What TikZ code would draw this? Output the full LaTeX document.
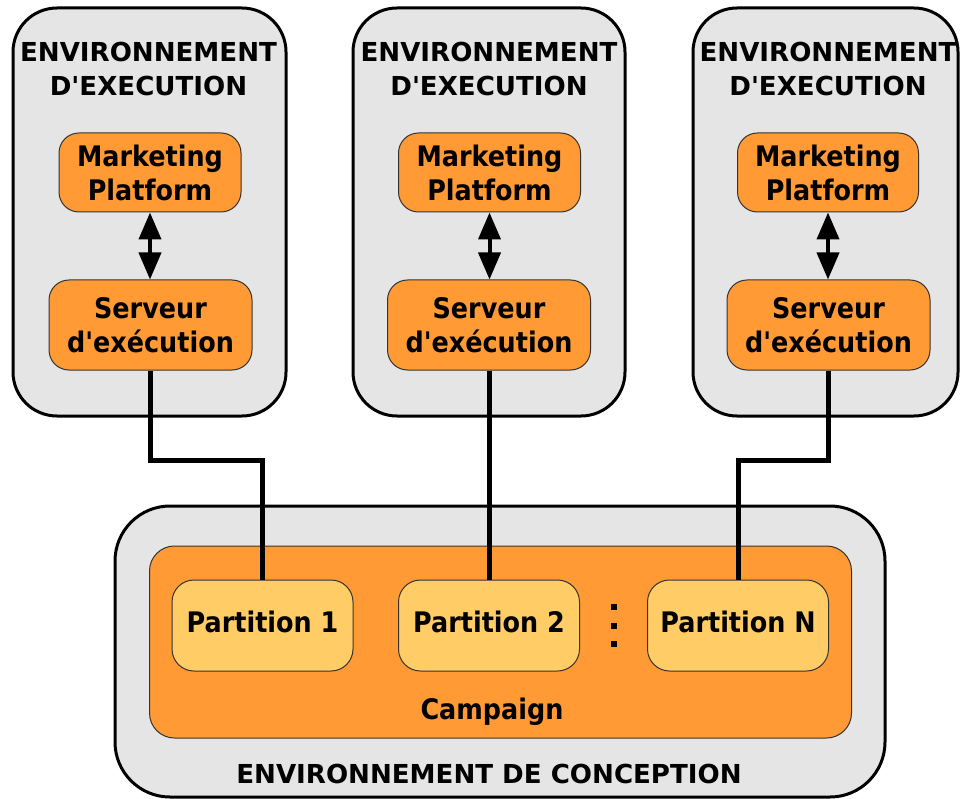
\documentclass[tikz,border=0pt]{standalone}
\usepackage{fontspec}
\setmainfont{DejaVu Sans}
\newfontfamily\nb{DejaVu Sans Bold}[FakeStretch=0.9]
\newfontfamily\capsfont{DejaVu Sans Bold}
\usetikzlibrary{arrows.meta}
\definecolor{envgray}{HTML}{E5E5E5}
\definecolor{orng}{HTML}{FF9A35}
\definecolor{lightorng}{HTML}{FFCC66}
\definecolor{thinline}{HTML}{333333}
\tikzset{
  envbox/.style={draw=black, line width=3pt, fill=envgray, rounded corners=44pt, inner sep=0pt},
  orangebox/.style={draw=thinline, line width=1pt, fill=orng, rounded corners=20pt, inner sep=0pt,
    align=center, font=\nb\fontsize{28.3}{34}\selectfont},
  partbox/.style={draw=thinline, line width=1pt, fill=lightorng, rounded corners=22pt, inner sep=0pt,
    minimum width=181pt, minimum height=91pt, text height=21pt, text depth=7pt,
    font=\nb\fontsize{28.3}{34}\selectfont},
  titletext/.style={align=center, inner sep=0pt, font=\capsfont\fontsize{26.1}{34}\selectfont},
  labeltext/.style={inner sep=0pt, anchor=base},
  conn/.style={line width=5pt, draw=black},
  dblarrow/.style={line width=4pt, draw=black,
    {Triangle[length=27pt,width=22pt]}-{Triangle[length=27pt,width=22pt]}},
  dotsq/.style={fill=black, minimum size=6pt, inner sep=0pt}
}
\begin{document}
\begin{tikzpicture}[x=1pt,y=-1pt]
\useasboundingbox (0,0) rectangle (960,799);
% execution environments
\node[envbox, minimum width=273pt, minimum height=408pt] (env1) at (149.5,212) {};
\node[envbox, minimum width=272pt, minimum height=408pt] (env2) at (489,212) {};
\node[envbox, minimum width=265pt, minimum height=408pt] (env3) at (825.5,212) {};
\node[titletext] (t1) at (148.5,68.6) {ENVIRONNEMENT\\D'EXECUTION};
\node[titletext] (t2) at (489,68.6) {ENVIRONNEMENT\\D'EXECUTION};
\node[titletext] (t3) at (828,68.6) {ENVIRONNEMENT\\D'EXECUTION};
% marketing platforms
\node[orangebox, minimum width=182pt, minimum height=79pt] (mp1) at (150,172.5) {Marketing\\Platform};
\node[orangebox, minimum width=182pt, minimum height=79pt] (mp2) at (489.5,172.5) {Marketing\\Platform};
\node[orangebox, minimum width=181pt, minimum height=79pt] (mp3) at (828,172.5) {Marketing\\Platform};
% servers
\node[orangebox, minimum width=203pt, minimum height=90pt] (s1) at (150.5,325) {Serveur\\d'exécution};
\node[orangebox, minimum width=203pt, minimum height=90pt] (s2) at (489,325) {Serveur\\d'exécution};
\node[orangebox, minimum width=203pt, minimum height=90pt] (s3) at (828.5,325) {Serveur\\d'exécution};
\draw[dblarrow] (mp1.south) -- (mp1.south |- s1.north);
\draw[dblarrow] (mp2.south) -- (mp2.south |- s2.north);
\draw[dblarrow] (mp3.south) -- (mp3.south |- s3.north);
% design environment
\node[envbox, rounded corners=55pt, minimum width=770pt, minimum height=291pt] (design) at (500,651.5) {};
\node[draw=thinline, line width=1pt, fill=orng, rounded corners=25pt, inner sep=0pt,
  minimum width=702pt, minimum height=192pt] (campaign) at (500.5,642) {};
\node[partbox] (p1) at (262.5,625.5) {Partition 1};
\node[partbox] (p2) at (489,625.5) {Partition 2};
\node[partbox] (pN) at (738,625.5) {Partition N};
\node[dotsq] (d1) at (613.7,606.7) {};
\node[dotsq] (d2) at (613.7,626.3) {};
\node[dotsq] (d3) at (613.7,644.2) {};
\node[labeltext, font=\nb\fontsize{28.3}{34}\selectfont] (camplabel) at (492,719.3) {Campaign};
\node[labeltext, font=\capsfont\fontsize{26.1}{34}\selectfont] (designlabel) at (489,783) {ENVIRONNEMENT DE CONCEPTION};
% connectors
\draw[conn] (s1.south) -- ++(0,90) -| (p1.north);
\draw[conn] (s2.south) -- (p2.north);
\draw[conn] (s3.south) -- ++(0,90) -| (pN.north);
\end{tikzpicture}
\end{document}
